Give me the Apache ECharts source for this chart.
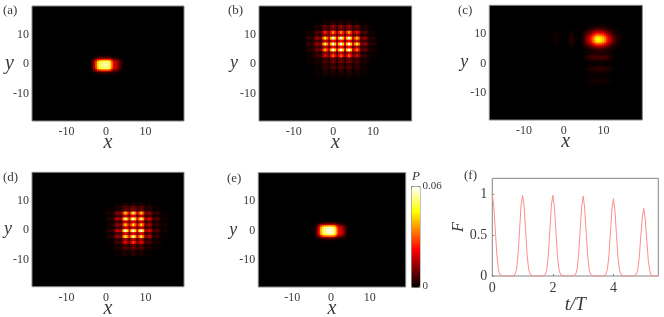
<!DOCTYPE html>
<html><head><meta charset="utf-8"><style>html,body{margin:0;padding:0;background:#fff}#c{width:664px;height:317px}</style>
<script src="https://cdn.jsdelivr.net/npm/echarts@6/dist/echarts.min.js"></script></head><body><div id="c"></div>
<script>
// All P tables are in units of 0.001; rows run from top to bottom, columns from left to right.
const colorbarRange = [0, 0.06];
const spatialTicks = [-10, 0, 10];
const panelLabels = ['(a)', '(b)', '(c)', '(d)', '(e)', '(f)'];
const fTickX = [0, 2, 4];
const fTickY = [0, 0.5, 1];

// (a) x -4.5..5, y 3..-3.5
const panelA = [
[0,0,0,0,1,1,1,1,1,1,1,1,1,0,0,0,0,0,0,0],
[0,0,0,1,1,2,3,3,3,3,3,3,2,1,1,1,0,0,0,0],
[0,0,1,3,5,8,9,9,10,10,10,9,6,4,3,3,1,1,0,0],
[0,0,2,7,13,21,24,25,26,26,26,24,16,10,9,7,4,1,0,0],
[0,1,4,12,24,37,42,44,46,47,46,42,29,17,15,12,7,3,1,0],
[0,1,5,14,28,44,50,52,54,55,54,50,34,20,18,14,8,3,1,0],
[0,1,5,14,28,44,50,52,54,55,54,50,34,20,18,14,8,3,1,0],
[0,1,5,14,28,44,50,52,54,55,54,50,34,20,18,14,8,3,1,0],
[0,1,5,14,28,44,50,52,54,55,54,50,34,20,18,14,8,3,1,0],
[0,1,5,13,26,40,46,48,50,51,50,46,31,18,17,13,7,3,1,0],
[0,1,3,9,18,29,32,34,35,36,35,32,22,13,12,9,5,2,1,0],
[0,0,2,4,8,13,15,16,16,16,16,15,10,6,5,4,2,1,0,0],
[0,0,1,1,3,4,5,5,5,5,5,5,3,2,2,1,1,0,0,0],
[0,0,0,0,1,1,1,1,2,2,2,1,1,1,1,0,0,0,0,0]];

// (b) x -7..11, y rows one unit tall from 15 to -4
const panelB = [
[0,0,0,0,0,0,0,0,0,1,1,1,0,1,2,1,1,1,2,1,1,1,2,1,0,1,1,1,0,0,0,0,0,0,0,0,0],
[0,0,0,0,0,1,1,1,0,1,3,1,1,3,4,3,1,3,4,3,1,3,4,3,1,1,3,1,0,1,1,1,0,0,0,0,0],
[0,0,0,0,1,2,3,2,3,7,10,7,5,10,14,10,6,10,14,10,6,10,14,10,5,7,10,7,3,2,3,2,1,0,0,0,0],
[0,0,0,0,1,2,2,2,2,6,7,6,4,8,10,8,4,8,10,8,4,8,10,8,4,6,7,6,2,2,2,2,0,0,0,0,0],
[0,1,2,1,2,6,8,6,7,18,26,18,12,25,36,25,14,25,36,25,14,27,38,27,12,17,24,17,7,6,8,6,2,1,2,1,0],
[1,1,1,1,2,4,5,4,4,11,14,11,7,15,19,15,8,15,19,15,8,16,20,16,7,10,13,10,3,3,4,3,1,1,1,1,0],
[1,4,5,4,4,11,15,11,11,32,46,32,20,42,60,42,22,42,60,42,22,42,60,42,20,29,42,29,10,10,14,10,4,3,4,3,1],
[1,2,2,2,3,5,6,5,5,15,19,15,9,19,24,19,10,19,24,19,10,19,24,19,9,14,18,14,5,5,6,5,2,2,2,2,1],
[1,4,6,4,5,11,16,11,13,35,50,35,20,42,60,42,22,42,60,42,22,42,60,42,20,34,48,34,12,10,14,10,4,3,4,3,1],
[1,2,2,2,3,5,6,5,5,14,18,14,8,19,24,19,10,19,24,19,10,19,24,19,9,13,16,13,5,4,5,4,2,1,1,1,0],
[1,3,4,3,4,8,12,8,10,27,38,27,18,41,58,41,22,41,58,41,22,42,60,42,18,24,34,24,9,7,10,7,3,2,3,2,1],
[0,1,1,1,2,3,4,3,3,10,12,10,6,14,18,14,7,14,18,14,7,14,18,14,6,9,11,9,3,2,3,2,1,1,1,1,0],
[0,1,2,1,2,5,7,5,5,15,22,15,10,22,32,22,12,22,32,22,12,22,32,22,10,14,20,14,5,4,6,4,2,1,1,1,0],
[0,1,1,1,1,2,2,2,2,5,6,5,3,7,9,7,4,7,9,7,4,7,9,7,3,5,6,5,2,2,2,2,1,0,0,0,0],
[0,1,1,1,1,2,3,2,2,6,7,6,4,8,10,8,4,8,10,8,4,8,10,8,4,6,7,6,2,2,3,2,1,0,0,0,0],
[0,0,0,0,0,1,2,1,1,3,5,3,2,4,6,4,2,4,6,4,2,4,6,4,2,3,5,3,1,1,2,1,0,0,0,0,0],
[0,0,0,0,0,1,2,1,1,4,5,4,2,6,7,6,3,6,7,6,3,6,7,6,2,4,5,4,1,1,2,1,0,0,0,0,0],
[0,0,0,0,0,1,1,1,0,2,3,2,1,3,4,3,1,3,4,3,1,3,4,3,1,2,3,2,0,1,1,1,0,0,0,0,0],
[0,0,0,0,0,1,1,1,0,2,2,2,1,2,3,2,1,2,3,2,1,2,3,2,1,2,2,2,0,1,1,1,0,0,0,0,0],
[0,0,0,0,0,0,1,0,0,1,1,1,0,1,2,1,1,1,2,1,1,1,2,1,0,1,1,1,0,0,1,0,0,0,0,0,0]];

// (c) main spot x 4.5..14.5, y 13..3.5
const panelCSpot = [
[0,0,0,0,0,1,1,1,1,1,1,1,1,1,0,0,0,0,0,0,0],
[0,0,0,1,1,1,2,2,2,2,2,2,2,1,1,1,0,0,0,0,0],
[0,0,1,1,2,3,3,4,5,5,4,4,3,3,2,1,1,1,0,0,0],
[0,1,2,2,3,4,6,7,8,8,7,7,6,4,3,2,2,1,1,0,0],
[0,1,2,4,5,7,9,11,13,12,12,11,9,7,5,4,2,2,1,1,0],
[0,2,4,6,8,10,14,17,19,18,18,16,14,10,8,6,4,2,1,1,0],
[1,2,5,8,10,14,19,23,26,25,24,22,19,14,11,8,5,3,2,1,1],
[1,3,6,10,14,19,24,30,34,33,32,29,24,18,14,10,6,4,2,1,1],
[1,3,8,12,17,23,30,37,41,40,38,35,30,22,17,12,8,5,3,2,1],
[1,4,9,14,18,25,33,41,46,45,43,39,33,24,19,14,9,6,3,2,1],
[1,4,9,14,19,26,34,42,47,46,44,40,34,25,20,14,9,6,3,2,1],
[1,4,9,14,18,25,33,41,46,45,43,39,33,24,19,14,9,6,3,2,1],
[1,3,8,12,16,22,29,36,40,39,37,34,29,21,17,12,8,5,3,2,1],
[1,3,6,9,12,17,22,27,31,30,29,26,22,16,13,9,6,4,2,1,1],
[0,2,4,6,9,12,15,19,21,21,20,18,15,11,9,6,4,3,1,1,0],
[0,1,3,4,6,8,10,13,14,14,13,12,10,8,6,4,3,2,1,1,0],
[0,1,2,3,3,5,6,8,8,8,8,7,6,5,4,3,2,1,1,0,0],
[0,0,1,1,2,3,3,4,5,5,4,4,3,3,2,1,1,1,0,0,0],
[0,0,1,1,2,2,3,3,3,3,3,3,3,2,2,1,1,0,0,0,0],
[0,0,1,1,2,2,3,3,3,3,3,3,3,2,2,1,1,0,0,0,0]];
// (c) fringes below the spot, x 5..13, y 3..-7
const panelCFringes = [
[0,1,1,2,2,3,3,3,3,3,3,3,2,1,1,1,0],
[1,1,3,4,4,5,5,5,5,5,5,5,4,3,2,1,0],
[1,2,4,5,6,6,7,7,7,7,7,6,6,4,3,1,1],
[1,1,3,4,4,5,5,5,5,5,5,5,4,3,2,1,0],
[0,1,1,2,2,3,3,3,3,3,3,3,2,1,1,1,0],
[0,0,1,1,1,1,1,1,1,1,1,1,1,1,0,0,0],
[0,0,0,0,1,1,1,1,1,1,1,1,0,0,0,0,0],
[0,0,1,1,1,1,1,1,1,1,1,1,1,1,0,0,0],
[0,0,1,1,1,2,2,2,2,2,2,2,1,1,1,0,0],
[0,1,1,2,3,3,3,4,4,4,3,3,3,2,1,1,0],
[0,1,2,3,3,4,4,4,4,4,4,4,3,3,1,1,0],
[0,1,1,2,3,3,3,4,4,4,3,3,3,2,1,1,0],
[0,0,1,1,1,2,2,2,2,2,2,2,1,1,1,0,0],
[0,0,1,1,1,1,1,1,1,1,1,1,1,1,0,0,0],
[0,0,0,0,0,1,1,1,1,1,1,1,0,0,0,0,0],
[0,0,0,0,1,1,1,1,1,1,1,1,0,0,0,0,0],
[0,0,0,1,1,1,1,1,1,1,1,1,1,0,0,0,0],
[0,0,1,1,1,1,2,2,2,2,2,1,1,1,0,0,0],
[0,0,1,1,1,2,2,2,2,2,2,2,1,1,1,0,0],
[0,0,1,1,1,1,2,2,2,2,1,1,1,1,0,0,0],
[0,0,0,1,1,1,1,1,1,1,1,1,1,0,0,0,0]];
// (c) faint vertical stripes, x -3..3, y 11.5..5
const panelCStripes = [
[0,0,0,0,0,0,0,0,0,0,1,0,0],
[0,0,1,0,0,0,0,0,0,1,1,1,0],
[0,1,1,1,0,0,0,0,0,1,2,1,0],
[0,1,1,1,0,0,0,0,0,1,3,1,0],
[0,1,2,1,0,0,0,0,0,1,3,1,0],
[0,1,2,1,0,0,0,0,1,2,4,2,1],
[1,1,2,1,0,0,0,0,1,2,4,2,1],
[1,1,2,1,0,0,0,0,1,2,4,2,1],
[0,1,2,1,0,0,0,0,1,2,4,2,1],
[0,1,2,1,0,0,0,0,1,2,3,2,0],
[0,1,1,1,0,0,0,0,0,1,3,1,0],
[0,0,1,0,0,0,0,0,0,1,2,1,0],
[0,0,0,0,0,0,0,0,0,1,1,1,0],
[0,0,0,0,0,0,0,0,0,0,1,0,0]];

// (d) x 0..16, y rows one unit tall from 9 to -8
const panelD = [
[0,0,0,0,0,1,2,1,1,2,3,2,1,2,4,2,1,2,3,2,1,1,2,1,0,0,0,0,0,0,0,0,0],
[0,0,0,0,1,2,3,2,3,6,8,6,5,8,10,8,5,6,8,6,3,3,4,3,1,1,1,1,0,0,0,0,0],
[0,1,1,1,1,2,3,2,3,8,10,8,5,10,12,10,5,8,10,8,3,3,4,3,1,1,1,1,0,0,0,0,0],
[1,2,3,2,4,10,14,10,11,29,42,29,17,35,50,35,17,29,42,29,11,10,14,10,4,4,5,4,1,1,1,1,0],
[0,1,1,1,2,5,6,5,5,15,19,15,8,18,22,18,8,15,19,15,5,6,7,6,2,2,3,2,1,1,1,1,0],
[1,3,4,3,5,13,18,13,14,38,55,38,21,42,60,42,21,36,52,36,14,15,22,15,6,6,8,6,2,1,2,1,0],
[0,1,1,1,2,5,6,5,5,15,19,15,8,17,21,17,8,15,19,15,5,6,8,6,2,2,3,2,1,1,1,1,0],
[1,2,3,2,4,10,14,10,11,29,42,29,17,31,44,31,17,29,42,29,11,11,16,11,4,4,6,4,2,1,2,1,0],
[0,1,2,1,2,5,7,5,5,16,20,16,8,17,21,17,8,16,20,16,5,6,8,6,2,2,3,2,1,1,1,1,0],
[1,4,5,4,5,14,20,14,16,42,60,42,22,42,60,42,22,42,60,42,16,15,22,15,6,6,8,6,2,1,2,1,0],
[0,1,2,1,2,6,7,6,6,17,22,17,9,18,23,18,9,17,21,17,6,6,8,6,2,2,3,2,1,0,1,0,0],
[1,3,4,3,4,11,16,11,12,34,48,34,20,38,55,38,19,32,46,32,12,13,18,13,4,4,6,4,1,1,1,1,0],
[0,1,1,1,1,4,5,4,4,11,14,11,6,13,17,13,6,11,14,11,4,4,5,4,1,1,2,1,0,0,0,0,0],
[0,1,1,1,2,5,7,5,5,15,22,15,10,20,28,20,10,15,22,15,5,6,8,6,2,2,3,2,1,0,0,0,0],
[0,0,0,0,1,2,2,2,2,5,6,5,3,6,8,6,3,5,6,5,2,2,2,2,1,1,1,1,0,0,0,0,0],
[0,0,0,0,1,2,3,2,3,6,8,6,5,8,10,8,5,6,8,6,3,2,3,2,1,1,1,1,0,0,0,0,0],
[0,0,0,0,0,1,1,1,1,2,3,2,2,3,4,3,2,2,3,2,1,1,1,1,0,0,0,0,0,0,0,0,0],
[0,0,0,0,0,1,1,1,1,2,3,2,1,3,4,3,1,2,3,2,1,1,1,1,0,0,0,0,0,0,0,0,0]];

// (e) x -4.5..5, y 3..-3.5
const panelE = [
[0,0,0,1,1,2,2,2,2,2,2,2,1,1,1,0,0,0,0,0],
[0,0,1,2,4,5,5,6,6,6,6,5,4,2,2,2,1,0,0,0],
[0,1,3,7,12,15,16,17,17,17,17,15,11,7,6,5,3,1,0,0],
[1,2,7,16,26,33,35,36,38,38,36,33,23,14,13,10,7,3,1,0],
[1,3,9,22,37,46,50,52,53,53,52,46,33,20,18,15,9,4,1,0],
[1,3,10,24,40,50,54,56,58,58,56,50,36,22,20,16,10,4,1,0],
[1,3,10,24,40,50,54,56,58,58,56,50,36,22,20,16,10,4,1,0],
[1,3,10,24,40,50,54,56,58,58,56,50,36,22,20,16,10,4,1,0],
[1,3,10,24,39,49,53,55,57,57,55,49,35,22,20,16,10,4,1,0],
[1,3,9,20,34,43,46,48,49,49,48,43,31,19,17,14,9,3,1,0],
[1,2,6,13,22,28,30,31,32,32,31,28,20,12,11,9,6,2,1,0],
[0,1,3,6,10,13,14,14,15,15,14,13,9,6,5,4,3,1,0,0],
[0,0,1,2,3,4,4,4,5,5,4,4,3,2,2,1,1,0,0,0],
[0,0,0,0,1,1,1,1,1,1,1,1,1,0,0,0,0,0,0,0]];

// (f) F sampled every 0.05 in t/T, from 0 to 5.5
const fStep = 0.05;
const fValues = [
1,.86,.56,.26,.08,.02,0,0,0,0,0,0,0,0,0,.02,.08,.26,.56,.87,
.99,.86,.56,.26,.08,.02,0,0,0,0,0,0,0,0,0,.02,.08,.26,.56,.87,
.99,.85,.55,.25,.08,.02,0,0,0,0,0,0,0,0,0,.02,.08,.26,.56,.85,
.98,.83,.53,.24,.07,.02,0,0,0,0,0,0,0,0,0,.02,.08,.25,.54,.82,
.95,.8,.5,.22,.07,.02,0,0,0,0,0,0,0,0,0,.02,.07,.22,.48,.71,
.83,.7,.44,.19,.06,.01,0,0,0,0,0];

const serif = '"Liberation Serif", serif';
const ink = '#3a3a3a', frame = '#858585';
const range = (a, n) => Array.from({length: n}, (_, i) => String(a + i * 0.5));
const xCats = range(-18.5, 77), xCatsE = range(-18.5, 76), yCats = range(-19, 78);
const xIdx = x => Math.round((x + 18.5) * 2), yIdx = y => Math.round((y + 19) * 2);

function cells(patches) {
  const out = [];
  patches.forEach(p => p.rows.forEach((row, r) => row.forEach((v, c) => {
    if (v <= 0) return;
    const y = p.top - r * p.rowStep;
    for (let k = 0; k < p.rowStep * 2; k++) out.push([xIdx(p.left + c * 0.5), yIdx(y - k * 0.5), v / 1000]);
  })));
  return out;
}
const spatial = [
  {box:[32,6,152,115], cats:xCats, gap:18, size:20, patches:[{rows:panelA,left:-4.5,top:3,rowStep:.5}]},
  {box:[259,6,152.7,115], cats:xCats, gap:21, size:18, patches:[{rows:panelB,left:-7,top:15,rowStep:1}]},
  {box:[489.3,5.3,153,114.7], cats:xCats, gap:21, size:18, patches:[
     {rows:panelCSpot,left:4.5,top:13,rowStep:.5},{rows:panelCFringes,left:5,top:3,rowStep:.5},{rows:panelCStripes,left:-3,top:11.5,rowStep:.5}]},
  {box:[32,172.3,152,114.4], cats:xCats, gap:20, size:18, patches:[{rows:panelD,left:0,top:9,rowStep:1}]},
  {box:[258.3,172.7,147.4,114.3], cats:xCatsE, gap:21, size:18, patches:[{rows:panelE,left:-4.5,top:3,rowStep:.5}]}
];
const grids=[], xAxes=[], yAxes=[], series=[];
spatial.forEach((p,i) => {
  grids.push({left:p.box[0],top:p.box[1],width:p.box[2],height:p.box[3],show:true,backgroundColor:'#000',borderColor:frame,borderWidth:1,containLabel:false,outerBoundsMode:'none'});
  const lab = {interval:(n,v)=>spatialTicks.includes(+v),color:ink,fontFamily:serif,fontSize:12,margin:5,hideOverlap:false};
  xAxes.push({type:'category',gridIndex:i,data:p.cats,axisLine:{show:false},axisTick:{show:false},splitLine:{show:false},axisLabel:lab,
    name:'x',nameLocation:'middle',nameGap:12,nameMoveOverlap:false,nameTextStyle:{fontFamily:serif,fontStyle:'italic',fontSize:20,color:ink}});
  yAxes.push({type:'category',gridIndex:i,data:yCats,axisLine:{show:false},axisTick:{show:false},splitLine:{show:false},axisLabel:{...lab,margin:3},
    name:'y',nameLocation:'middle',nameRotate:0,nameGap:p.gap,nameMoveOverlap:false,nameTextStyle:{fontFamily:serif,fontStyle:'italic',fontSize:p.size,color:ink}});
  series.push({type:'heatmap',xAxisIndex:i,yAxisIndex:i,data:cells(p.patches),progressive:0,animation:false,silent:true,itemStyle:{borderWidth:0}});
});
// panel (f)
grids.push({left:492.3,top:178.3,width:166,height:97.7,show:true,backgroundColor:'#fff',borderColor:frame,borderWidth:1,outerBoundsMode:'none'});
const fLab = {color:ink,fontFamily:serif,fontSize:14};
const fX = {type:'value',gridIndex:5,min:0,max:5.48,splitLine:{show:false},axisLine:{show:false}};
const fY = {type:'value',gridIndex:5,min:0,max:1.2,splitLine:{show:false},axisLine:{show:false}};
const tick = {show:true,inside:true,length:2,lineStyle:{color:frame,width:1}};
xAxes.push({...fX,position:'bottom',axisTick:{...tick,customValues:fTickX},axisLabel:{...fLab,margin:5,customValues:fTickX,showMaxLabel:true},
  name:'t/T',nameLocation:'middle',nameGap:19,nameMoveOverlap:false,nameTextStyle:{fontFamily:serif,fontStyle:'italic',fontSize:19,color:ink}});
yAxes.push({...fY,position:'left',axisTick:{...tick,customValues:fTickY},axisLabel:{...fLab,margin:5,customValues:fTickY,formatter:v=>String(v)},
  name:'F',nameLocation:'middle',nameGap:26,nameRotate:90,nameMoveOverlap:false,nameTextStyle:{fontFamily:serif,fontStyle:'italic',fontSize:16,color:ink}});
series.push({type:'line',xAxisIndex:5,yAxisIndex:5,data:fValues.map((v,i)=>[i*fStep,v]),showSymbol:false,animation:false,silent:true,
  lineStyle:{color:'#ff8d8d',width:1},clip:true});

const texts = [
  ['(a)',3,4],['(b)',228,4],['(c)',458,4],['(d)',3,171],['(e)',227,172],['(f)',464,169]
].map((t,i)=>({text:panelLabels[i],left:t[1],top:t[2],padding:0,textStyle:{fontFamily:serif,fontSize:13,fontWeight:'normal',color:ink}}));
texts.push({text:'P',left:412,top:170,padding:0,textStyle:{fontFamily:serif,fontStyle:'italic',fontSize:13,fontWeight:'normal',color:ink}});
texts.push({text:'0.06',left:422.5,top:181,padding:0,textStyle:{fontFamily:serif,fontSize:11,fontWeight:'normal',color:ink}});
texts.push({text:'0',left:422.5,top:281,padding:0,textStyle:{fontFamily:serif,fontSize:11,fontWeight:'normal',color:ink}});

const chart = echarts.init(document.getElementById('c'),null,{renderer:'canvas'});
chart.setOption({animation:false,title:texts,grid:grids,xAxis:xAxes,yAxis:yAxes,series,
  visualMap:{type:'continuous',seriesIndex:[0,1,2,3,4],min:colorbarRange[0],max:colorbarRange[1],calculable:false,showLabel:false,
    left:411,top:186,itemWidth:8.5,itemHeight:101,padding:0,borderColor:frame,borderWidth:1,text:null,
    inRange:{color:['#000000','#550000','#aa0000','#ff0000','#ff5500','#ffaa00','#ffff00','#ffff80','#ffffff']}}});
</script></body></html>
